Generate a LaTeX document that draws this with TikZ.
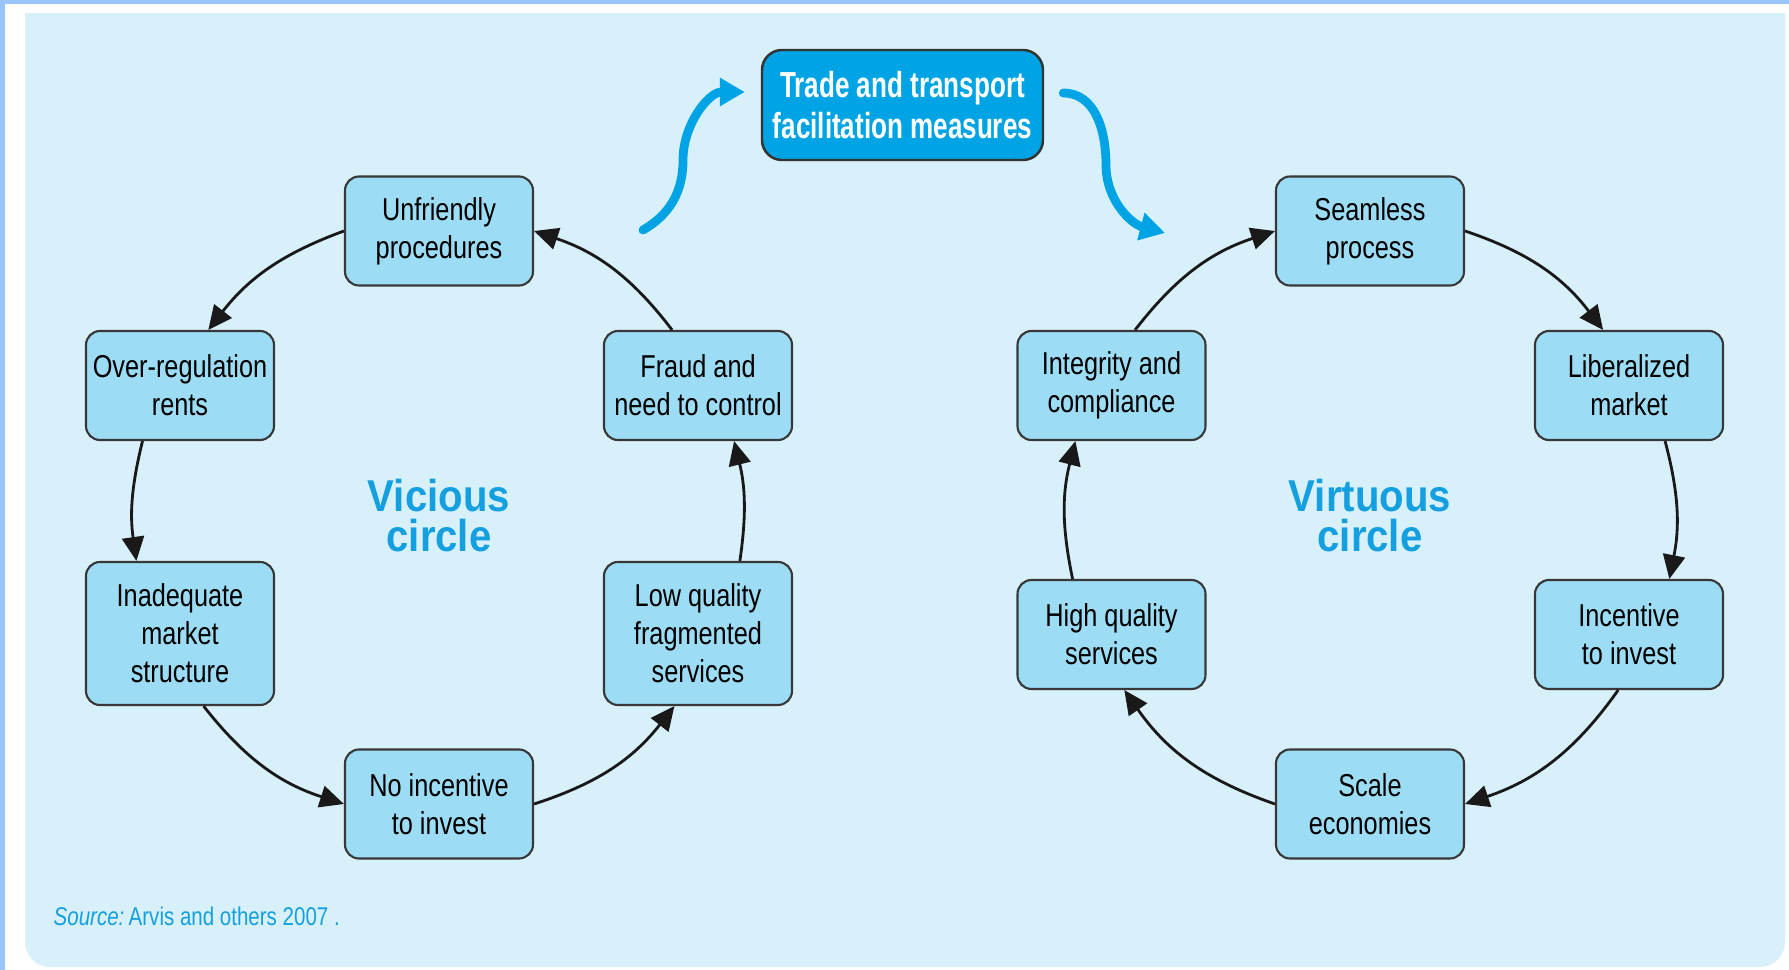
\documentclass[tikz,border=0pt]{standalone}
\usepackage{fontspec}
\usepackage{xcolor}
\usepackage{tikz}
\usetikzlibrary{arrows.meta}

\newfontfamily\boxfont[FakeStretch=0.8]{Liberation Sans}
\newfontfamily\titlefont[FakeStretch=0.72]{Liberation Sans}
\newfontfamily\circlefont[FakeStretch=0.9]{Liberation Sans}

\definecolor{panelblue}{HTML}{D8F0FA}
\definecolor{stripblue}{HTML}{99C5FF}
\definecolor{boxblue}{HTML}{9CDCF4}
\definecolor{tradeblue}{HTML}{00A4E4}
\definecolor{labelblue}{HTML}{14A0E0}

\begin{document}
\begin{tikzpicture}[
  stage/.style={draw=black!78, line width=0.6pt, fill=boxblue, rounded corners=0.14cm,
    minimum width=1.88cm, minimum height=1.09cm, inner sep=0pt, align=center,
    font=\boxfont\fontsize{9}{10.8}\selectfont},
  tall/.style={minimum height=1.43cm},
  measure/.style={draw=black!80, line width=0.7pt, fill=tradeblue, rounded corners=0.2cm,
    minimum width=2.81cm, minimum height=1.10cm, inner sep=0pt, align=center, text=white,
    font=\titlefont\bfseries\fontsize{10.3}{11.6}\selectfont},
  circlename/.style={text=labelblue, align=center,
    font=\circlefont\bfseries\fontsize{12.7}{11.4}\selectfont},
  loop/.style={-{Triangle[length=0.24cm,width=0.22cm]}, line width=0.8pt, black!90},
  push/.style={-{Triangle[length=0.25cm,width=0.27cm]}, line width=2.5pt, tradeblue, line cap=round}
]
\useasboundingbox (0,0) rectangle (17.89,-9.70);

\fill[white] (0,0) rectangle (17.89,-9.70);
\fill[stripblue] (0,0) rectangle (0.05,-9.70);
\fill[stripblue] (0,0) rectangle (17.89,-0.04);
\fill[panelblue] (0.25,-0.13) -- (17.85,-0.13) [rounded corners=0.25cm] -- (17.85,-9.67) -- (0.25,-9.67) [sharp corners] -- cycle;

\node[measure] (measures) at (9.025,-1.05) {Trade and transport\\facilitation measures};

\node[stage] (unfriendly) at (4.39,-2.31) {Unfriendly\\procedures};
\node[stage] (overreg) at (1.80,-3.855) {Over-regulation\\rents};
\node[stage,tall] (inadequate) at (1.80,-6.335) {Inadequate\\market\\structure};
\node[stage] (noincentive) at (4.39,-8.04) {No incentive\\to invest};
\node[stage,tall] (lowquality) at (6.98,-6.335) {Low quality\\fragmented\\services};
\node[stage] (fraud) at (6.98,-3.855) {Fraud and\\need to control};

\node[stage] (seamless) at (13.70,-2.31) {Seamless\\process};
\node[stage] (liberalized) at (16.29,-3.855) {Liberalized\\market};
\node[stage] (incentive) at (16.29,-6.345) {Incentive\\to invest};
\node[stage] (scale) at (13.70,-8.04) {Scale\\economies};
\node[stage] (highquality) at (11.115,-6.345) {High quality\\services};
\node[stage] (integrity) at (11.115,-3.855) {Integrity and\\compliance};

\node[circlename] (vicious) at (4.39,-5.16) {Vicious\\circle};
\node[circlename] (virtuous) at (13.70,-5.16) {Virtuous\\circle};

\node[anchor=base west, text=labelblue, inner sep=0pt, font=\boxfont\fontsize{7.3}{8}\selectfont]
  (source) at (0.53,-9.25) {\textit{Source:}\,Arvis and others 2007 .};

\draw[loop] (unfriendly.west) to[bend right=16] (overreg.63);
\draw[loop] (overreg.236) to[bend right=11] (inadequate.121);
\draw[loop] (inadequate.288) to[bend right=17] (noincentive.west);
\draw[loop] (noincentive.east) to[bend right=17] (lowquality.252);
\draw[loop] (lowquality.60) to[bend right=11] (fraud.303);
\draw[loop] (fraud.115) to[bend right=17] (unfriendly.east);

\draw[loop] (seamless.east) to[bend left=17] (liberalized.115);
\draw[loop] (liberalized.303) to[bend left=13] (incentive.54);
\draw[loop] (incentive.259) to[bend left=18] (scale.east);
\draw[loop] (scale.west) to[bend left=18] (highquality.283);
\draw[loop] (highquality.125) to[bend left=13] (integrity.237);
\draw[loop] (integrity.67) to[bend left=17] (seamless.west);

\coordinate (pushstart) at (6.43,-2.30);
\coordinate (pullend) at (11.65,-2.33);
\draw[push] (pushstart) to[out=30,in=-90] (6.83,-1.60) to[out=90,in=180] ([shift={(-0.16,0.13)}]measures.west);
\draw[push] ([shift={(0.19,0.12)}]measures.east) to[out=0,in=90] (11.06,-1.65) to[out=-90,in=165] (pullend);

\end{tikzpicture}
\end{document}
